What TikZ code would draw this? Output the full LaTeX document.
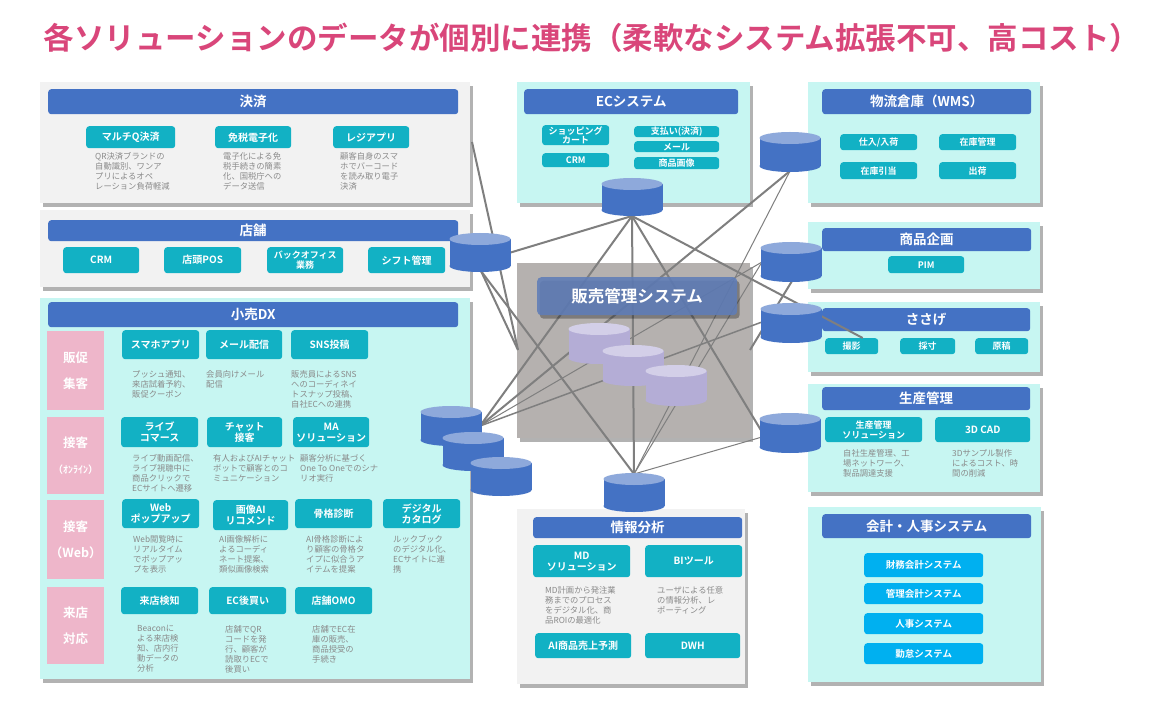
\documentclass[tikz,border=0pt]{standalone}
\usepackage{fontspec}
\setmainfont{Noto Sans CJK JP}[BoldFont={Noto Sans CJK JP Bold}]
\usetikzlibrary{shadows}
\definecolor{hdrblue}{HTML}{4472C4}
\definecolor{itemteal}{HTML}{12B1C4}
\definecolor{skyblue}{HTML}{00B0F0}
\definecolor{cyanbg}{HTML}{C7F6F2}
\definecolor{graybg}{HTML}{F2F2F2}
\definecolor{pinklbl}{HTML}{EEB6CA}
\definecolor{titlepink}{HTML}{D9467A}
\definecolor{descgray}{HTML}{8A8A8A}
\definecolor{linegray}{HTML}{7F7F7F}
\definecolor{dbbody}{HTML}{4472C4}
\definecolor{dbtop}{HTML}{8EA9DB}
\definecolor{purbody}{HTML}{B4ADD6}
\definecolor{purtop}{HTML}{D3CFE8}
\definecolor{centergray}{HTML}{B5B1AF}
\definecolor{centerhdr}{HTML}{5F7DB8}
\tikzset{
 every node/.style={inner sep=1pt},
 shad/.style={drop shadow={shadow xshift=2.5pt,shadow yshift=-3.5pt,opacity=0.3,fill=black}},
 pg/.style={fill=graybg,shad},
 pc/.style={fill=cyanbg,shad},
 hdr/.style={fill=hdrblue,rounded corners=3pt,text=white,font=\fontsize{13.5}{15}\selectfont\bfseries},
 itm/.style={fill=itemteal,rounded corners=3pt,text=white,align=center,font=\fontsize{10}{11}\selectfont\bfseries},
 itms/.style={itm,inner sep=0pt,font=\fontsize{9}{9.6}\selectfont\bfseries},
 acc/.style={itm,fill=skyblue,font=\fontsize{9.5}{11}\selectfont\bfseries},
 lbl/.style={fill=pinklbl,text=white,align=center,font=\fontsize{12.5}{26}\selectfont\bfseries},
 desc/.style={anchor=north west,inner sep=0pt,align=left,text=descgray,font=\fontsize{8.3}{10}\selectfont},
 conn/.style={draw=linegray,line width=2pt},
 connt/.style={draw=linegray,line width=1pt},
}
\newcommand\pnl[6]{\node[#2,anchor=north west,minimum width={#5-#3},minimum height={#6-#4}] (#1) at (#3,#4) {};}
\newcommand\bx[7]{\node[#2,anchor=north west,minimum width={#5-#3},minimum height={#6-#4}] (#1) at (#3,#4) {#7};}
\newcommand\dsc[4]{\node[desc] (#1) at (#2,#3) {#4};}
\newcommand\cyl[6]{%
 \fill[#5] (#2-30.5,#3+6) rectangle (#2+30.5,#3+#4-6);
 \fill[#5] (#2,#3+#4-6) ellipse [x radius=30.5,y radius=6];
 \fill[#6] (#2,#3+6) ellipse [x radius=30.5,y radius=6];
 \coordinate (#1) at (#2,#3+#4/2);}
\begin{document}
\begin{tikzpicture}[x=1pt,y=-1pt]
\fill[white] (0,0) rectangle (1174,708);
\useasboundingbox (0,0) rectangle (1174,708);
\node[font=\fontsize{30.5}{32}\selectfont\bfseries,text=titlepink] (title) at (592,38) {各ソリューションのデータが個別に連携（柔軟なシステム拡張不可、高コスト）};

% ---- 決済
\pnl{payp}{pg}{40}{82}{470}{203}
\bx{payh}{hdr}{48}{89}{458}{114}{決済}
\bx{multi}{itm}{86}{126}{175}{148}{マルチQ決済}
\bx{taxfree}{itm}{215}{126}{291}{148}{免税電子化}
\bx{regi}{itm}{333}{126}{409}{148}{レジアプリ}
\dsc{multid}{95}{152}{QR決済ブランドの\\自動識別、ワンア\\プリによるオペ\\レーション負荷軽減}
\dsc{taxfreed}{223}{152}{電子化による免\\税手続きの簡素\\化、国税庁への\\データ送信}
\dsc{regid}{340}{152}{顧客自身のスマ\\ホでバーコード\\を読み取り電子\\決済}

% ---- 店舗
\pnl{shopp}{pg}{40}{210}{470}{287}
\bx{shoph}{hdr}{48}{220}{458}{241}{店舗}
\bx{crm}{itm}{63}{247}{139}{273}{CRM}
\bx{pos}{itm}{164}{247}{241}{273}{店頭POS}
\bx{back}{itms}{267}{247}{343}{273}{バックオフィス\\業務}
\bx{shift}{itm}{368}{247}{445}{273}{シフト管理}

% ---- 小売DX
\pnl{dxp}{pc}{40}{298}{470}{679}
\bx{dxh}{hdr}{48}{302}{458}{327}{小売DX}
\bx{l1}{lbl}{47}{331}{104}{410}{販促\\集客}
\bx{l2}{lbl}{47}{417}{104}{494}{接客\\{\fontsize{10}{12}\selectfont （ｵﾝﾗｲﾝ）}}
\bx{l3}{lbl}{47}{500}{104}{579}{接客\\（Web）}
\bx{l4}{lbl}{47}{587}{104}{664}{来店\\対応}
\bx{app}{itm}{122}{330}{199}{359}{スマホアプリ}
\bx{mail}{itm}{206}{330}{282}{359}{メール配信}
\bx{sns}{itm}{291}{330}{368}{359}{SNS投稿}
\dsc{appd}{132}{370}{プッシュ通知、\\来店試着予約、\\販促クーポン}
\dsc{maild}{206}{370}{会員向けメール\\配信}
\dsc{snsd}{291}{370}{販売員によるSNS\\へのコーディネイ\\トスナップ投稿、\\自社ECへの連携}
\bx{live}{itm}{121}{417}{198}{447}{ライブ\\コマース}
\bx{chat}{itm}{207}{417}{282}{447}{チャット\\接客}
\bx{ma}{itm}{293}{417}{369}{447}{MA\\ソリューション}
\dsc{lived}{132}{454}{ライブ動画配信、\\ライブ視聴中に\\商品クリックで\\ECサイトへ遷移}
\dsc{chatd}{213}{454}{有人およびAIチャット\\ボットで顧客とのコ\\ミュニケーション}
\dsc{mad}{300}{454}{顧客分析に基づく\\One To Oneでのシナ\\リオ実行}
\bx{web}{itm}{122}{499}{199}{528}{Web\\ポップアップ}
\bx{img}{itm}{213}{500}{288}{530}{画像AI\\リコメンド}
\bx{bone}{itm}{295}{499}{372}{528}{骨格診断}
\bx{cat}{itm}{383}{499}{460}{528}{デジタル\\カタログ}
\dsc{webd}{133}{535}{Web閲覧時に\\リアルタイム\\でポップアッ\\プを表示}
\dsc{imgd}{219}{535}{AI画像解析に\\よるコーディ\\ネート提案、\\類似画像検索}
\dsc{boned}{306}{535}{AI骨格診断によ\\り顧客の骨格タ\\イプに似合うア\\イテムを提案}
\dsc{catd}{393}{535}{ルックブック\\のデジタル化、\\ECサイトに連\\携}
\bx{visit}{itm}{121}{587}{198}{614}{来店検知}
\bx{later}{itm}{209}{587}{286}{614}{EC後買い}
\bx{omo}{itm}{295}{587}{372}{614}{店舗OMO}
\dsc{visitd}{137}{625}{Beaconに\\よる来店検\\知、店内行\\動データの\\分析}
\dsc{laterd}{225}{625}{店舗でQR\\コードを発\\行、顧客が\\読取りECで\\後買い}
\dsc{omod}{312}{625}{店舗でEC在\\庫の販売、\\商品授受の\\手続き}

% ---- ECシステム
\pnl{ecp}{pc}{517}{82}{750}{203}
\bx{ech}{hdr}{524}{89}{738}{114}{ECシステム}
\bx{cart}{itms}{542}{125}{609}{145}{ショッピング\\カート}
\bx{eccrm}{itms}{542}{153}{609}{167}{CRM}
\bx{shiharai}{itms}{634}{126}{719}{137}{支払い(決済)}
\bx{ecmail}{itms}{634}{141}{719}{152}{メール}
\bx{ecimg}{itms}{634}{157}{719}{169}{商品画像}

% ---- WMS
\pnl{wmsp}{pc}{808}{82}{1040}{203}
\bx{wmsh}{hdr}{822}{89}{1031}{114}{物流倉庫（WMS）}
\bx{shiire}{itms}{840}{134}{917}{150}{仕入/入荷}
\bx{zaiko}{itms}{939}{134}{1016}{150}{在庫管理}
\bx{hikiate}{itms}{840}{162}{917}{179}{在庫引当}
\bx{shukka}{itms}{939}{162}{1016}{179}{出荷}

% ---- 商品企画
\pnl{plp}{pc}{808}{222}{1040}{289}
\bx{plh}{hdr}{822}{228}{1031}{251}{商品企画}
\bx{pim}{itms}{888}{256}{964}{273}{PIM}

% ---- ささげ
\pnl{ssp}{pc}{808}{302}{1040}{372}
\bx{ssh}{hdr}{822}{308}{1030}{331}{ささげ}
\bx{satsuei}{itms}{825}{338}{878}{354}{撮影}
\bx{saisun}{itms}{900}{338}{955}{354}{採寸}
\bx{genko}{itms}{975}{338}{1028}{354}{原稿}

% ---- 生産管理
\pnl{prp}{pc}{808}{384}{1040}{492}
\bx{prh}{hdr}{822}{387}{1030}{410}{生産管理}
\bx{prsol}{itms}{825}{417}{922}{442}{生産管理\\ソリューション}
\bx{cad}{itm}{935}{417}{1030}{442}{3D CAD}
\dsc{prsold}{843}{449}{自社生産管理、工\\場ネットワーク、\\製品調達支援}
\dsc{cadd}{952}{449}{3Dサンプル製作\\によるコスト、時\\間の削減}

% ---- 会計・人事
\pnl{acp}{pc}{808}{507}{1041}{682}
\bx{ach}{hdr}{822}{514}{1031}{538}{会計・人事システム}
\bx{zaimu}{acc}{864}{553}{983}{577}{財務会計システム}
\bx{kanri}{acc}{864}{583}{983}{604}{管理会計システム}
\bx{jinji}{acc}{864}{613}{983}{634}{人事システム}
\bx{kintai}{acc}{864}{643}{983}{664}{勤怠システム}

% ---- 情報分析
\pnl{anp}{pg}{517}{509}{745}{684}
\bx{anh}{hdr}{533}{517}{742}{538}{情報分析}
\bx{md}{itm}{533}{545}{630}{577}{MD\\ソリューション}
\bx{bi}{itm}{645}{545}{742}{577}{BIツール}
\bx{aiuri}{itm}{535}{633}{631}{658}{AI商品売上予測}
\bx{dwh}{itm}{645}{633}{740}{658}{DWH}
\dsc{mdd}{545}{586}{MD計画から発注業\\務までのプロセス\\をデジタル化、商\\品ROIの最適化}
\dsc{bid}{657}{586}{ユーザによる任意\\の情報分析、レ\\ポーティング}

% ---- 販売管理システム (box)
\node[fill=centergray,shad,anchor=north west,minimum width=233,minimum height=175] (sms) at (517,263) {};

% ---- connector end points
\coordinate (cPay) at (472,142);
\coordinate (cBoxL) at (518,350);
\coordinate (cBoxR) at (750,350);
\coordinate (cShopB) at (481,271);
\coordinate (cShopR) at (509,253);
\coordinate (cEC) at (632,216);
\coordinate (cAna) at (634,474);
\coordinate (cDX) at (480,426);
\coordinate (cWms) at (790,171);
\coordinate (cPimL) at (762,262);
\coordinate (cPimB) at (792,281);
\coordinate (cSasL) at (762,322);
\coordinate (cPro) at (762,432);
\coordinate (cPro2) at (762,437);

\draw[conn] (cPay) -- (cBoxL);
\draw[conn] (cShopB) -- (cBoxL);
\draw[conn] (cShopB) -- (cAna);
\draw[conn] (cShopR) -- (cEC);
\draw[conn] (cEC) -- (cDX);
\draw[conn] (cEC) -- (cAna);
\draw[conn] (cEC) -- ([xshift=11pt]satsuei.north);
\draw[conn] (cEC) -- (cPro);
\draw[conn] (cWms) -- (cDX);
\draw[connt] (cWms) -- (cAna);
\draw[connt] (cPimL) -- (cDX);
\draw[connt] (cPimL) -- (cAna);
\draw[conn,line width=1.5pt] (cSasL) -- (cDX);
\draw[connt] (cAna) -- (cPro2);
\draw[conn] (cPimB) -- (cBoxR);

% ---- 販売管理システム header (semi-transparent, over the lines)
\node[fill=centerhdr,fill opacity=0.88,text opacity=1,rounded corners=4pt,anchor=north west,minimum width=200,minimum height=38,text=white,font=\fontsize{16.5}{18}\selectfont\bfseries,shad] (smsh) at (537,277) {販売管理システム};

% ---- purple DBs
\cyl{pu1}{599}{323}{41}{purbody}{purtop}
\cyl{pu2}{633}{345}{41}{purbody}{purtop}
\cyl{pu3}{676}{365}{41}{purbody}{purtop}

% ---- blue DBs
\cyl{ecdb}{632}{178}{38}{dbbody}{dbtop}
\cyl{shopdb}{480}{233}{39}{dbbody}{dbtop}
\cyl{wmsdb}{790}{132}{40}{dbbody}{dbtop}
\cyl{pimdb}{791}{242}{40}{dbbody}{dbtop}
\cyl{sasdb}{791}{303}{40}{dbbody}{dbtop}
\cyl{prodb}{790}{413}{40}{dbbody}{dbtop}
\cyl{anadb}{634}{473}{39}{dbbody}{dbtop}
\cyl{dxdb1}{451}{406}{40}{dbbody}{dbtop}
\cyl{dxdb2}{473}{432}{39}{dbbody}{dbtop}
\cyl{dxdb3}{501}{457}{39}{dbbody}{dbtop}
\end{tikzpicture}
\end{document}
